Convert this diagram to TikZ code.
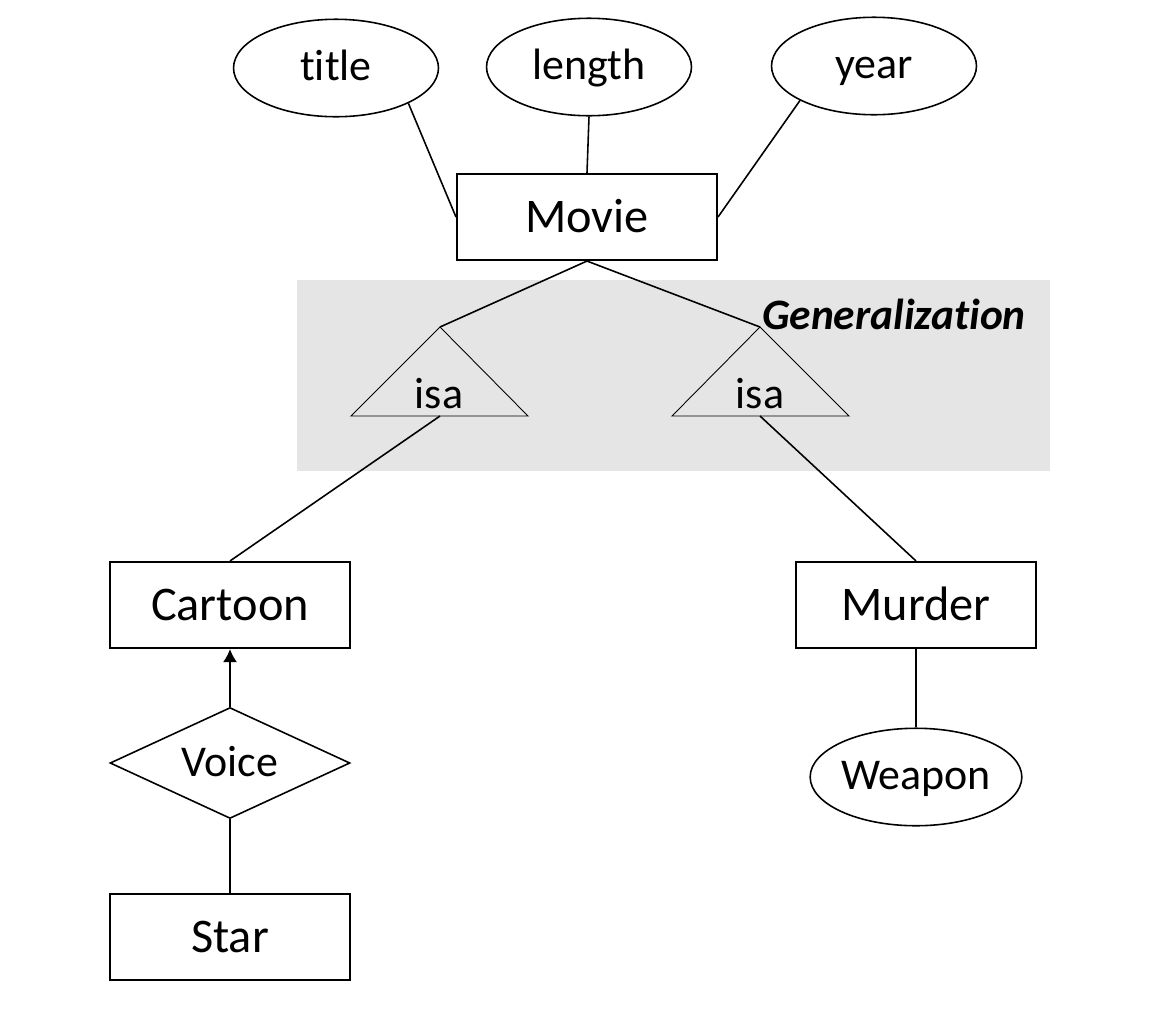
\documentclass[tikz,border=0pt]{standalone}
\usepackage{fontspec}
\setmainfont{Carlito}[Ligatures=NoCommon]
\usetikzlibrary{shapes,arrows,arrows.meta,positioning,calc}
\tikzstyle{entity} = [rectangle, draw, line width=1.2pt, minimum width=4.8cm, minimum height=1.72cm, text height=0.6cm, text depth=0pt, font=\fontsize{27.5}{32}\selectfont]
\tikzstyle{attr} = [ellipse, draw, line width=0.9pt, minimum width=4.1cm, minimum height=1.95cm, inner sep=0pt, text height=0.5cm, text depth=0pt, font=\fontsize{25}{30}\selectfont]
\tikzstyle{rel} = [diamond, draw, line width=0.9pt, minimum width=4.8cm, minimum height=2.22cm, aspect=2.16, inner sep=0pt, text height=0.55cm, text depth=0pt, font=\fontsize{25}{30}\selectfont]
\tikzstyle{link} = [line width=0.9pt]
\tikzstyle{isatri} = [line width=0.5pt]

\begin{document}
\begin{tikzpicture}[x=0.02cm, y=-0.02cm]
    \useasboundingbox (0,0) rectangle (1150,1022);
    % shaded generalization area
    \fill[gray!20] (297,280) rectangle (1050,471);
    \node[anchor=east, font=\fontsize{24.7}{29}\selectfont\bfseries\itshape] (gen) at (1032,314) {Generalization};

    \node[attr] (title) at (336,68) {title};
    \node[attr] (length) at (589,67) {length};
    \node[attr] (year) at (874,66) {year};
    \node[entity, minimum width=5.2cm] (movie) at (587,217) {Movie};

    \node[entity] (cartoon) at (230,605) {Cartoon};
    \node[entity] (murder) at (916,605) {Murder};
    \node[rel] (voice) at (230,763) {Voice};
    \node[entity] (star) at (230,937) {Star};
    \node[attr, minimum width=4.05cm] (weapon) at (916,777) {Weapon};

    % isa triangles
    \coordinate (isaLtop) at (440,327);
    \coordinate (isaLbot) at (440,416);
    \coordinate (isaRtop) at (760,327);
    \coordinate (isaRbot) at (760,416);
    \draw[isatri] (isaLtop) -- (351,416) -- (528,416) -- cycle;
    \draw[isatri] (isaRtop) -- (672,416) -- (849,416) -- cycle;
    \node[font=\fontsize{25}{30}\selectfont] (isaL) at (439,394) {isa};
    \node[font=\fontsize{25}{30}\selectfont] (isaR) at (760,394) {isa};

    \draw[link] (title.-26) -- (movie.west);
    \draw[link] (length.south) -- (movie.north);
    \draw[link] (year.205) -- (movie.east);
    \draw[link] (movie.south) -- (isaLtop);
    \draw[link] (movie.south) -- (isaRtop);
    \draw[link] (isaLbot) -- (cartoon.north);
    \draw[link] (isaRbot) -- (murder.north);
    \draw[link, -{Latex[length=2.6mm, width=2.8mm]}] (voice) -- (cartoon);
    \draw[link] (voice) -- (star);
    \draw[link] (murder) -- (weapon);
\end{tikzpicture}
\end{document}
